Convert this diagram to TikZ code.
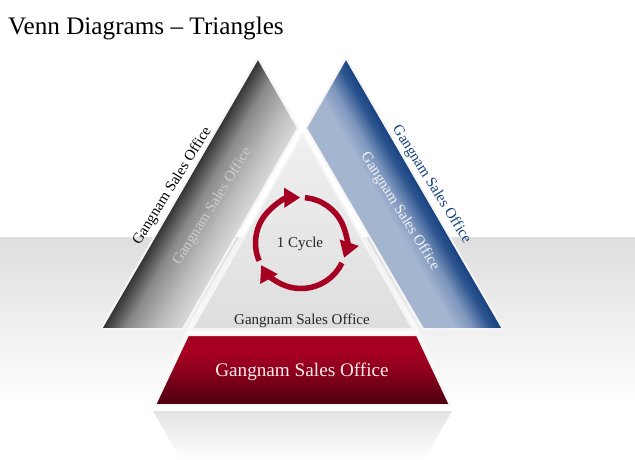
\documentclass[tikz,border=0pt]{standalone}
\usepackage{fontspec}
\setmainfont{Liberation Serif}
\usetikzlibrary{arrows.meta}
\definecolor{cycred}{HTML}{A50021}
\definecolor{bO}{HTML}{16407F}\definecolor{bN}{HTML}{2D5590}\definecolor{bM}{HTML}{7D96BD}\definecolor{bI}{HTML}{A4B5D0}
\definecolor{gO}{HTML}{2F2F2F}\definecolor{gM}{HTML}{8A8A8A}\definecolor{gI}{HTML}{DADADA}
\pgfdeclareverticalshading{greyband}{100bp}{color(0bp)=(gI); color(25bp)=(gI); color(40bp)=(gI!65!gM); color(60bp)=(gM); color(75bp)=(gO); color(100bp)=(gO)}
\pgfdeclareverticalshading{blueband}{100bp}{color(0bp)=(bI); color(25bp)=(bI); color(46bp)=(bI); color(57bp)=(bM); color(68bp)=(bN); color(75bp)=(bO); color(100bp)=(bO)}
\definecolor{rT}{HTML}{A50021}\definecolor{rB}{HTML}{4A0010}
\pgfdeclareverticalshading{redband}{100bp}{color(0bp)=(rB); color(25bp)=(rB); color(50bp)=(rT!75!rB); color(62bp)=(rT); color(75bp)=(rT); color(100bp)=(rT)}
\tikzset{
  bandtext/.style={font=\fontsize{15}{17}\selectfont,inner sep=0pt},
  shapeedge/.style={draw=white!96!black,line width=2pt,line join=miter},
  halo/.style={draw=white,opacity=.6,line width=#1,line join=miter},
  cyc/.style={draw=cycred,line width=5.5pt,-{Triangle[length=16pt,width=19pt]}},
}
\begin{document}
\begin{tikzpicture}[x=1pt,y=-1pt]
\useasboundingbox (0,0) rectangle (635,460);
\fill[white] (0,0) rectangle (635,460);
% backdrop
\shade[top color=black!13,bottom color=white] (0,237) rectangle (635,405);
% reflection
\shade[top color=black!11,bottom color=white] (153,411) -- (452,411) -- (424,460) -- (181,460) -- cycle;
% named corners
\coordinate (La) at (258,58);
\coordinate (Lb) at (101,329);
\coordinate (Lc) at (183,329);
\coordinate (Ld) at (298,128);
\coordinate (Ra) at (346,58);
\coordinate (Rb) at (503,329);
\coordinate (Rc) at (423,329);
\coordinate (Rd) at (306,128);
% left band
\begin{scope}
\clip (La) -- (Ld) -- (Lc) -- (Lb) -- cycle;
\shade[transform canvas={shift={(Lb)},rotate=60},shading=greyband] (-20,0) rectangle (340,71);
\end{scope}
\draw[shapeedge] (La) -- (Ld) -- (Lc) -- (Lb) -- cycle;
% right band
\begin{scope}
\clip (Ra) -- (Rb) -- (Rc) -- (Rd) -- cycle;
\shade[transform canvas={shift={(Ra)},rotate=-60},shading=blueband] (-20,0) rectangle (340,71);
\end{scope}
\draw[shapeedge] (Ra) -- (Rb) -- (Rc) -- (Rd) -- cycle;
% centre triangle
\draw[halo=9pt] (302.5,134) -- (413,329) -- (192,329) -- cycle;
\shade[shapeedge,top color=black!6,bottom color=black!13] (302.5,134) -- (413,329) -- (192,329) -- cycle;
% red trapezoid
\draw[halo=6pt] (188,335) -- (417,335) -- (450,405) -- (155,405) -- cycle;
\shade[shapeedge,shading=redband] (188,335) -- (417,335) -- (450,405) -- (155,405) -- cycle;
% cycle
\coordinate (c) at (301,243);
\draw[cyc] ([shift={(203:45.5pt)}]c) arc[start angle=203,end angle=91,radius=45.5pt];
\draw[cyc] ([shift={(85:45.5pt)}]c) arc[start angle=85,end angle=-19,radius=45.5pt];
\draw[cyc] ([shift={(-26:45.5pt)}]c) arc[start angle=-26,end angle=-151,radius=45.5pt];
% texts
\node[anchor=west,inner sep=0pt,font=\fontsize{25.2}{28}\selectfont] (title) at (8,28.5) {Venn Diagrams – Triangles};
\node[bandtext,text=black!85] (cycletext) at (300,244) {1 Cycle};
\node[bandtext,text=black!85] (centretext) at (302,321) {Gangnam Sales Office};
\node[bandtext,font=\fontsize{19.2}{21}\selectfont,text=white!92!red] (redtext) at (302,372) {Gangnam Sales Office};
\node[bandtext,rotate=58,text=black] (leftouter) at (172.5,186) {Gangnam Sales Office};
\node[bandtext,rotate=58,text=white!80!black] (leftinner) at (212.5,206.5) {Gangnam Sales Office};
\node[bandtext,rotate=-58,text=bO] (rightouter) at (431.5,184.5) {Gangnam Sales Office};
\node[bandtext,rotate=-58,text=white!85!bI] (rightinner) at (400,211.5) {Gangnam Sales Office};
\end{tikzpicture}
\end{document}
